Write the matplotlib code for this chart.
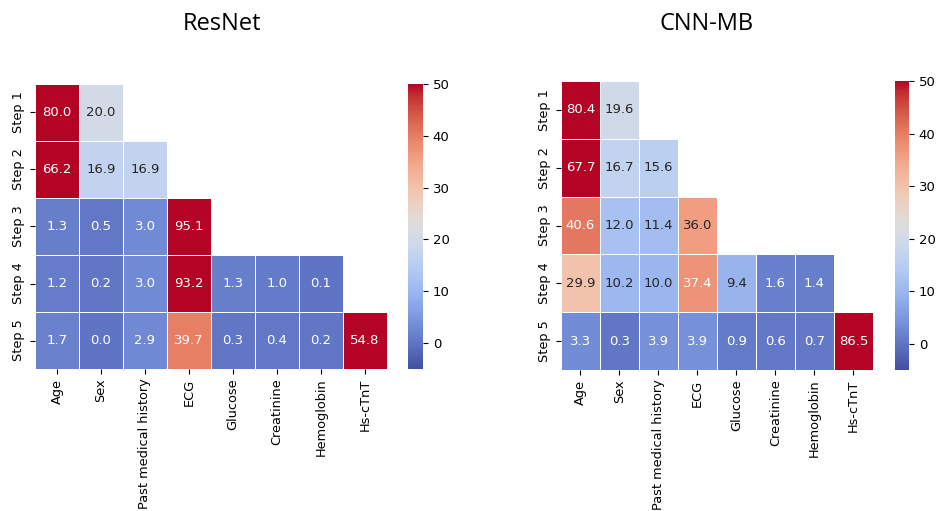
import matplotlib
matplotlib.use("Agg")
import matplotlib.pyplot as plt
from matplotlib.colors import ListedColormap
import numpy as np
import seaborn as sns

features = ["Age", "Sex", "Past medical history", "ECG", "Glucose",
            "Creatinine", "Hemoglobin", "Hs-cTnT"]
steps = ["Step 1", "Step 2", "Step 3", "Step 4", "Step 5"]

resnet_vals = [
    [80.0, 20.0],
    [66.2, 16.9, 16.9],
    [1.3, 0.5, 3.0, 95.1],
    [1.2, 0.2, 3.0, 93.2, 1.3, 1.0, 0.1],
    [1.7, 0.0, 2.9, 39.7, 0.3, 0.4, 0.2, 54.8],
]
cnnmb_vals = [
    [80.4, 19.6],
    [67.7, 16.7, 15.6],
    [40.6, 12.0, 11.4, 36.0],
    [29.9, 10.2, 10.0, 37.4, 9.4, 1.6, 1.4],
    [3.3, 0.3, 3.9, 3.9, 0.9, 0.6, 0.7, 86.5],
]


def to_matrix(rows):
    m = np.full((len(steps), len(features)), np.nan)
    for i, r in enumerate(rows):
        m[i, :len(r)] = r
    return m


# coolwarm, a bit washed out on the blue side like the scanned figure
base = plt.get_cmap("coolwarm")(np.linspace(0, 1, 256))[:, :3]
lum = base @ np.array([0.299, 0.587, 0.114])
k = (0.3 * (1 - np.linspace(0, 1, 256)))[:, None]
cmap = ListedColormap(base * (1 - k) + lum[:, None] * k)

fig = plt.figure(figsize=(9.37, 5.11), dpi=100)
W, H = 937, 511


def px_axes(x0, y0, x1, y1):
    return fig.add_axes([x0 / W, 1 - y1 / H, (x1 - x0) / W, (y1 - y0) / H])


panels = [
    ("ResNet", resnet_vals, (35, 84, 387, 369), (408, 84, 423, 369), 222),
    ("CNN-MB", cnnmb_vals, (561, 81, 873, 370), (895, 81, 909, 370), 707),
]

for title, vals, box, cbox, tx in panels:
    data = to_matrix(vals)
    ax = px_axes(*box)
    cax = px_axes(*cbox)
    sns.heatmap(data, mask=np.isnan(data), cmap=cmap, vmin=-5, vmax=50,
                annot=True, fmt=".1f", annot_kws={"fontsize": 9.5},
                linewidths=0.6, linecolor="white", ax=ax, cbar_ax=cax,
                xticklabels=features, yticklabels=steps)
    ax.tick_params(axis="x", labelrotation=90, labelsize=9.3)
    ax.tick_params(axis="y", labelrotation=90, labelsize=9.3)
    for lab in ax.get_yticklabels():
        lab.set_va("center")
    cax.tick_params(labelsize=9.5)
    cax.set_yticks([0, 10, 20, 30, 40, 50])
    fig.text(tx / W, 1 - 24 / H, title, ha="center", va="center",
             fontsize=17, family="Open Sans")

fig.savefig("out.png", dpi=100)
